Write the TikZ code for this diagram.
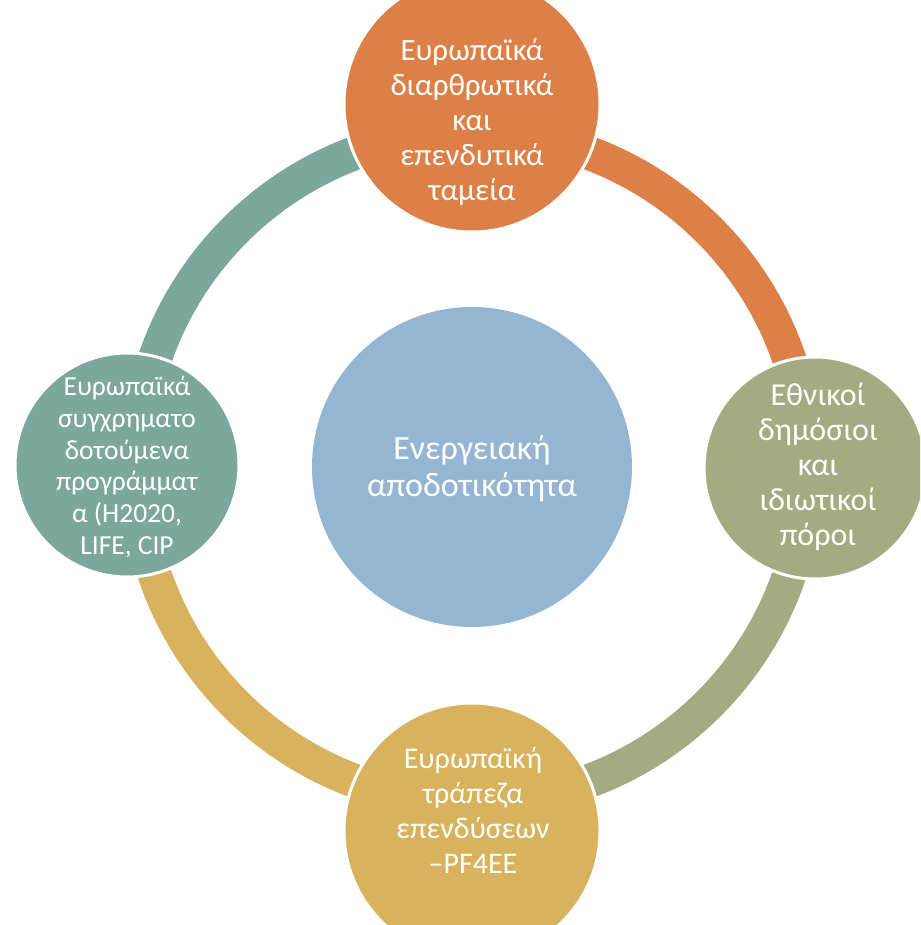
\documentclass[tikz,border=0pt]{standalone}
\usepackage{fontspec}
\newfontfamily\carl{Carlito}
\definecolor{cOrange}{HTML}{DD8047}
\definecolor{cOlive}{HTML}{A5AB81}
\definecolor{cGold}{HTML}{D8B25C}
\definecolor{cTeal}{HTML}{7BA79D}
\definecolor{cBlue}{HTML}{94B6D2}
\tikzset{
  ringarc/.style={line width=34pt},
  sat/.style={circle, draw=white, line width=3pt, inner sep=0pt},
  lbl/.style={text=white, align=center, inner sep=0pt, anchor=center},
}
\begin{document}
\begin{tikzpicture}[x=1pt,y=-1pt]
\useasboundingbox (0,0) rectangle (920,925);
\clip (0,0) rectangle (920,925);
\coordinate (C) at (472,467);
% ring segments
\draw[ringarc, cOrange] ([shift={(-90:335)}]C) arc[start angle=-90, end angle=0, radius=335];
\draw[ringarc, cOlive] ([shift={(0:335)}]C) arc[start angle=0, end angle=90, radius=335];
\draw[ringarc, cGold] ([shift={(90:335)}]C) arc[start angle=90, end angle=180, radius=335];
\draw[ringarc, cTeal] ([shift={(180:335)}]C) arc[start angle=180, end angle=270, radius=335];
% circles
\node[circle, fill=cBlue, minimum size=320pt, inner sep=0pt] (center) at (472,467) {};
\node[sat, fill=cOrange, minimum size=256pt] (top) at (472,104) {};
\node[sat, fill=cOlive, minimum size=222pt] (right) at (815,468) {};
\node[sat, fill=cGold, minimum size=256pt] (bottom) at (472,831) {};
\node[sat, fill=cTeal, minimum size=224pt] (left) at (127,465) {};
% labels
\node[lbl, font=\carl\fontsize{34}{37}\selectfont] (tc) at (472,469) {Ενεργειακή\\αποδοτικότητα};
\node[lbl, font=\carl\fontsize{31}{35}\selectfont] (tt) at (472,122) {Ευρωπαϊκά\\διαρθρωτικά\\και\\επενδυτικά\\ταμεία};
\node[lbl, font=\carl\fontsize{32}{35}\selectfont] (tr) at (818,467) {Εθνικοί\\δημόσιοι\\και\\ιδιωτικοί\\πόροι};
\node[lbl, font=\carl\fontsize{30}{35}\selectfont] (tb) at (473,810) {Ευρωπαϊκή\\τράπεζα\\επενδύσεων\\–PF4EE};
\node[lbl, font=\carl\fontsize{27.5}{31.7}\selectfont] (tl) at (127,467) {Ευρωπαϊκά\\συγχρηματο\\δοτούμενα\\προγράμματ\\α (H2020,\\LIFE, CIP};
\end{tikzpicture}
\end{document}
